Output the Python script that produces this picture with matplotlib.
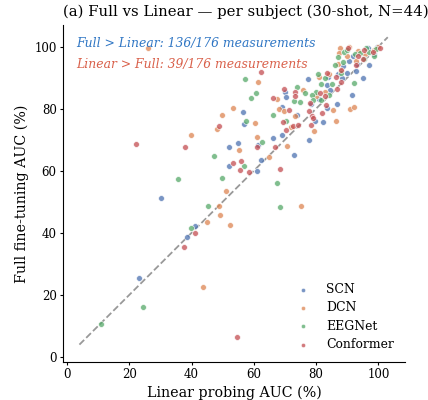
import matplotlib
matplotlib.use("Agg")
import matplotlib.pyplot as plt

plt.rcParams['font.family'] = ['DejaVu Serif']

# (linear probing AUC, full fine-tuning AUC) per subject, one list per model
scn_lin = [30.1, 41.2, 38.4, 23.2, 52.1, 52.0, 97.1, 88.5, 92.9, 89.8, 83.9,
           88.4, 94.9, 77.5, 83.4, 69.9, 70.4, 91.6, 86.7, 69.2, 56.4, 83.6,
           79.6, 82.2, 56.7, 69.0, 77.8, 54.9, 61.4, 72.9, 62.2, 61.0, 96.5,
           99.5, 92.0, 90.5, 87.0, 84.5, 81.0, 78.5, 74.0, 66.0, 93.0, 98.5]
scn_full = [51.1, 42.2, 38.6, 25.4, 67.7, 61.5, 94.1, 93.7, 92.0, 91.5, 90.3,
            89.9, 89.9, 89.6, 87.5, 85.5, 83.7, 84.4, 81.4, 80.4, 79.0, 80.2,
            76.1, 75.6, 75.0, 71.6, 70.0, 68.9, 68.3, 65.0, 63.4, 59.8, 99.5,
            100.0, 97.0, 95.5, 91.0, 86.0, 83.0, 81.5, 78.0, 70.5, 94.5, 97.5]

dcn_lin = [25.9, 53.4, 49.8, 48.2, 39.8, 55.1, 51.1, 48.9, 49.2, 45.0, 52.4,
           43.6, 75.3, 87.8, 87.5, 93.6, 95.7, 89.8, 92.7, 87.1, 80.9, 61.3,
           75.9, 82.7, 67.3, 68.0, 69.6, 85.5, 91.0, 92.2, 73.3, 86.3, 60.4,
           79.2, 60.9, 70.7, 64.8, 88.0, 98.5, 90.5, 84.0, 72.0, 80.0, 100.0]
dcn_full = [99.4, 80.3, 78.0, 73.6, 71.6, 66.8, 53.6, 48.5, 45.6, 43.5, 42.5,
            22.6, 48.6, 99.6, 98.0, 98.7, 97.6, 96.9, 95.5, 94.4, 90.3, 88.6,
            86.1, 85.5, 83.1, 79.8, 79.2, 79.7, 79.9, 80.4, 77.6, 75.9, 75.3,
            72.9, 71.0, 68.0, 64.4, 92.0, 99.0, 100.0, 91.0, 74.0, 84.0, 100.0]

eeg_lin = [47.2, 35.6, 49.7, 45.2, 39.8, 24.5, 10.8, 68.3, 89.1, 92.5, 97.0,
           99.2, 98.6, 86.9, 86.1, 88.1, 80.5, 57.2, 92.3, 81.6, 85.1, 74.0,
           79.9, 60.8, 78.7, 59.2, 72.8, 74.8, 79.1, 81.6, 70.4, 57.6, 62.6,
           56.9, 67.5, 94.0, 90.0, 96.0, 88.5, 83.0, 76.5, 95.5, 84.0, 66.0]
eeg_full = [64.9, 57.2, 57.5, 48.5, 41.4, 16.0, 10.7, 48.3, 98.3, 97.5, 98.4,
            99.2, 96.9, 96.7, 93.9, 91.4, 91.0, 89.5, 88.2, 87.8, 87.8, 87.1,
            85.5, 85.0, 84.3, 83.5, 82.3, 82.0, 82.9, 82.9, 76.1, 75.9, 69.1,
            61.4, 55.9, 98.0, 99.0, 99.5, 95.0, 90.0, 85.0, 96.0, 84.5, 78.0]

conf_lin = [48.9, 22.2, 37.9, 53.3, 55.4, 41.2, 37.7, 54.7, 90.2, 95.5, 98.2,
            100.5, 95.2, 92.7, 88.0, 62.2, 83.6, 86.5, 87.9, 69.8, 86.6, 73.3,
            81.1, 73.1, 82.7, 66.2, 78.1, 83.1, 71.4, 77.7, 82.0, 78.6, 79.1,
            69.3, 72.7, 74.3, 78.3, 70.3, 60.9, 66.8, 55.9, 58.3, 68.3, 93.5]
conf_full = [74.4, 68.5, 67.5, 62.4, 60.3, 39.8, 35.5, 6.5, 99.6, 98.8, 98.2,
             99.6, 96.1, 93.9, 92.3, 91.9, 91.6, 90.2, 88.5, 86.4, 86.2, 85.4,
             85.0, 84.1, 84.0, 83.3, 81.7, 81.1, 79.7, 79.2, 78.5, 77.5, 77.1,
             75.7, 74.5, 74.8, 74.6, 73.0, 67.6, 67.7, 63.2, 59.5, 60.7, 97.0]

models = ['SCN', 'DCN', 'EEGNet', 'Conformer']
colors = ['#4C72B0', '#DD8452', '#55A868', '#C44E52']
xs = [scn_lin, dcn_lin, eeg_lin, conf_lin]
ys = [scn_full, dcn_full, eeg_full, conf_full]

fig = plt.figure(figsize=(4.28, 4.0), dpi=100)
ax = fig.add_axes([0.147, 0.095, 0.799, 0.843])

for name, c, x, y in zip(models, colors, xs, ys):
    ax.scatter(x, y, s=18, color=c, alpha=0.75, edgecolor='white',
               linewidth=0.6, label=name, zorder=3)

ax.plot([4, 103], [4, 103], ls='--', color='#999999', lw=1.3, zorder=2)

ax.text(0.04, 0.933, 'Full > Linear: 136/176 measurements', transform=ax.transAxes,
        color='#2f76c4', style='italic', fontsize=8.9)
ax.text(0.04, 0.873, 'Linear > Full: 39/176 measurements', transform=ax.transAxes,
        color='#d9604a', style='italic', fontsize=8.9)

ax.set_xlim(-1.3, 108.5)
ax.set_ylim(-1.6, 107)
ax.set_xticks([0, 20, 40, 60, 80, 100])
ax.set_yticks([0, 20, 40, 60, 80, 100])
ax.tick_params(labelsize=8.5, length=2.5, pad=2)
ax.spines['top'].set_visible(False)
ax.spines['right'].set_visible(False)

ax.set_xlabel('Linear probing AUC (%)', fontsize=10.3, labelpad=3)
ax.set_ylabel('Full fine-tuning AUC (%)', fontsize=10.3, labelpad=4)
ax.set_title('(a) Full vs Linear — per subject (30-shot, N=44)', fontsize=10.7,
             loc='left', pad=6)

ax.legend(loc='lower right', frameon=False, fontsize=8.9, markerscale=0.75,
          handletextpad=0.85, labelspacing=0.42, borderaxespad=0.5)

fig.savefig('out.png', dpi=100)
